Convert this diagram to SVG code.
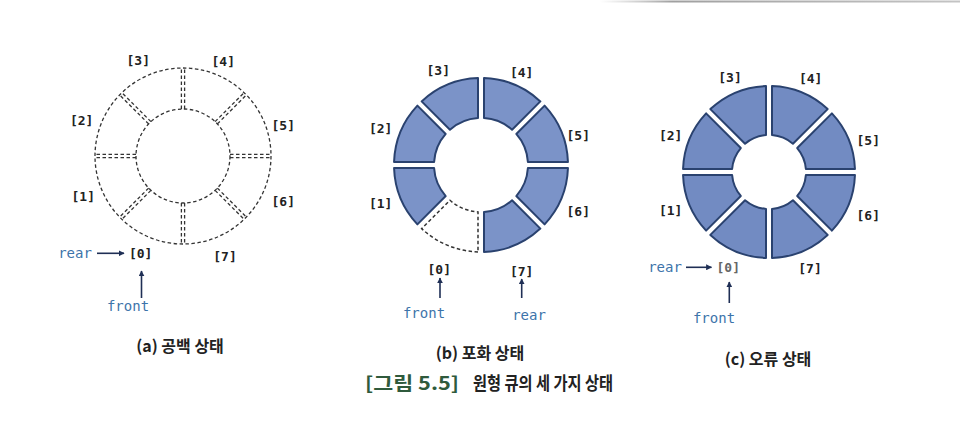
<svg xmlns="http://www.w3.org/2000/svg" xmlns:xlink="http://www.w3.org/1999/xlink" width="960" height="434" viewBox="0 0 960 434">
<defs>
<style>
.idx{font-family:"DejaVu Sans Mono","Liberation Mono",monospace;font-size:13px;font-weight:bold;fill:#222;text-anchor:middle;dominant-baseline:central}
.ptr{font-family:"DejaVu Sans Mono","Liberation Mono",monospace;font-size:14px;fill:#3d74aa;text-anchor:middle;dominant-baseline:central}
.cap{font-family:"Noto Sans CJK KR","Noto Sans",sans-serif;font-size:16px;font-weight:bold;fill:#222;text-anchor:middle}
.title{font-family:"Noto Sans CJK KR","Noto Sans",sans-serif;font-size:18px;font-weight:bold;fill:#222}
.dash{fill:none;stroke:#333;stroke-width:1.3;stroke-dasharray:3.5 2.5}
.seg{fill:#7b93c8;stroke:#2a426f;stroke-width:2;stroke-linejoin:round}
.segc{fill:#728bc2;stroke:#2a426f;stroke-width:2;stroke-linejoin:round}
.empty{fill:none;stroke:#333;stroke-width:1.5;stroke-dasharray:3.5 2.5}
.arr{stroke:#1f2f55;stroke-width:1.6;fill:none;marker-end:url(#ah)}
</style>
<marker id="ah" viewBox="0 0 10 10" refX="9" refY="5" markerWidth="6" markerHeight="6" markerUnits="userSpaceOnUse" orient="auto">
<path d="M0,0 L10,5 L0,10 Z" fill="#1f2f55"/>
</marker>
<path id="segB" d="M86.95,3 A87,87 0 0 1 63.60,59.36 L35.29,31.05 A47,47 0 0 0 46.90,3 Z"/>
<path id="segC" d="M85.95,3 A86,86 0 0 1 62.90,58.65 L28.20,23.96 A37,37 0 0 0 36.88,3 Z"/>
<g id="divA">
<line x1="47" y1="-1.6" x2="88" y2="-1.6"/>
<line x1="47" y1="1.6" x2="88" y2="1.6"/>
</g>
<linearGradient id="scan" x1="0" y1="0" x2="1" y2="0">
<stop offset="0" stop-color="#999" stop-opacity="0"/>
<stop offset="0.2" stop-color="#888" stop-opacity="0.8"/>
<stop offset="1" stop-color="#aaa" stop-opacity="0.7"/>
</linearGradient>
</defs>
<rect width="960" height="434" fill="#ffffff"/>
<rect x="600" y="0.5" width="360" height="2" fill="url(#scan)"/>

<!-- (a) empty queue -->
<g id="ringA" transform="translate(183,156)">
<circle class="dash" r="88"/>
<circle class="dash" r="47"/>
<g class="dash">
<use xlink:href="#divA" href="#divA"/>
<use xlink:href="#divA" href="#divA" transform="rotate(45)"/>
<use xlink:href="#divA" href="#divA" transform="rotate(90)"/>
<use xlink:href="#divA" href="#divA" transform="rotate(135)"/>
<use xlink:href="#divA" href="#divA" transform="rotate(180)"/>
<use xlink:href="#divA" href="#divA" transform="rotate(225)"/>
<use xlink:href="#divA" href="#divA" transform="rotate(270)"/>
<use xlink:href="#divA" href="#divA" transform="rotate(315)"/>
</g>
</g>
<g id="labelsA">
<text class="idx" x="140.7" y="253.3">[0]</text>
<text class="idx" x="83.3" y="196">[1]</text>
<text class="idx" x="81.7" y="120">[2]</text>
<text class="idx" x="138.3" y="60">[3]</text>
<text class="idx" x="223.3" y="61.7">[4]</text>
<text class="idx" x="283.3" y="125">[5]</text>
<text class="idx" x="283.3" y="201.7">[6]</text>
<text class="idx" x="225" y="256.7">[7]</text>
</g>
<g id="rearA"><text class="ptr" x="75" y="253">rear</text></g>
<g id="frontA"><text class="ptr" x="128" y="306">front</text></g>

<!-- (b) full queue -->
<g id="ringB" transform="translate(481,165)">
<use class="empty" xlink:href="#segB" href="#segB" transform="rotate(90)"/>
<use class="seg" xlink:href="#segB" href="#segB" transform="rotate(135)"/>
<use class="seg" xlink:href="#segB" href="#segB" transform="rotate(180)"/>
<use class="seg" xlink:href="#segB" href="#segB" transform="rotate(225)"/>
<use class="seg" xlink:href="#segB" href="#segB" transform="rotate(270)"/>
<use class="seg" xlink:href="#segB" href="#segB" transform="rotate(315)"/>
<use class="seg" xlink:href="#segB" href="#segB"/>
<use class="seg" xlink:href="#segB" href="#segB" transform="rotate(45)"/>
</g>
<g id="labelsB">
<text class="idx" x="439.3" y="269.3">[0]</text>
<text class="idx" x="380.7" y="203.3">[1]</text>
<text class="idx" x="380.7" y="128.3">[2]</text>
<text class="idx" x="438.3" y="70.7">[3]</text>
<text class="idx" x="521.7" y="72.7">[4]</text>
<text class="idx" x="578.3" y="135">[5]</text>
<text class="idx" x="578.3" y="211.7">[6]</text>
<text class="idx" x="521.7" y="271">[7]</text>
</g>
<g id="frontB"><text class="ptr" x="424" y="313">front</text></g>
<g id="rearB"><text class="ptr" x="529" y="315">rear</text></g>

<!-- (c) error state -->
<g id="ringC" transform="translate(769,172)">
<use class="segc" xlink:href="#segC" href="#segC" transform="rotate(90)"/>
<use class="segc" xlink:href="#segC" href="#segC" transform="rotate(135)"/>
<use class="segc" xlink:href="#segC" href="#segC" transform="rotate(180)"/>
<use class="segc" xlink:href="#segC" href="#segC" transform="rotate(225)"/>
<use class="segc" xlink:href="#segC" href="#segC" transform="rotate(270)"/>
<use class="segc" xlink:href="#segC" href="#segC" transform="rotate(315)"/>
<use class="segc" xlink:href="#segC" href="#segC"/>
<use class="segc" xlink:href="#segC" href="#segC" transform="rotate(45)"/>
</g>
<g id="labelsC">
<text class="idx" x="728.3" y="267.3" style="fill:#666">[0]</text>
<text class="idx" x="670.7" y="210">[1]</text>
<text class="idx" x="670.7" y="135">[2]</text>
<text class="idx" x="730" y="77.7">[3]</text>
<text class="idx" x="810.7" y="78.3">[4]</text>
<text class="idx" x="868.3" y="140">[5]</text>
<text class="idx" x="868.3" y="215">[6]</text>
<text class="idx" x="810" y="268.3">[7]</text>
</g>
<g id="rearC"><text class="ptr" x="665" y="267.3">rear</text></g>
<g id="frontC"><text class="ptr" x="714" y="318.3">front</text></g>

<!-- connectors -->
<g id="connectors">
<line class="arr" x1="97" y1="253.3" x2="124" y2="253.3"/>
<line class="arr" x1="141.5" y1="298" x2="141.5" y2="271"/>
<line class="arr" x1="440" y1="298" x2="440" y2="278"/>
<line class="arr" x1="521.7" y1="298" x2="521.7" y2="279"/>
<line class="arr" x1="686" y1="267.3" x2="711.5" y2="267.3"/>
<line class="arr" x1="729.3" y1="303" x2="729.3" y2="282"/>
</g>

<!-- captions -->
<g id="captions">
<text class="cap" x="180" y="352">(a) 공백 상태</text>
<text class="cap" x="480" y="359">(b) 포화 상태</text>
<text class="cap" x="768" y="365">(c) 오류 상태</text>
<text class="title" x="365" y="390" fill="#2f5a3c" style="fill:#2f5a3c" textLength="94" lengthAdjust="spacingAndGlyphs">[그림 5.5]</text>
<text class="title" x="473" y="390" textLength="140" lengthAdjust="spacingAndGlyphs">원형 큐의 세 가지 상태</text>
</g>
</svg>
